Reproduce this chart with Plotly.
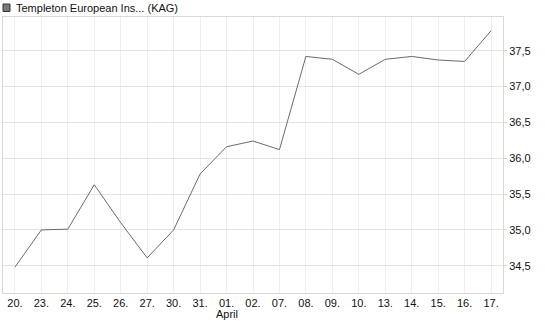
import plotly.graph_objects as go

day_labels = ["20.", "23.", "24.", "25.", "26.", "27.", "30.", "31.", "01.", "02.",
              "07.", "08.", "09.", "10.", "13.", "14.", "15.", "16.", "17."]
month_labels = ["", "", "", "", "", "", "", "", "April", "", "", "", "", "", "", "", "", "", ""]
prices = [34.48, 35.0, 35.01, 35.63, 35.1, 34.61, 35.0, 35.78, 36.16, 36.24,
          36.12, 37.42, 37.38, 37.17, 37.38, 37.42, 37.37, 37.35, 37.78]
y_ticks = [34.5, 35.0, 35.5, 36.0, 36.5, 37.0, 37.5]
series_name = "Templeton European Ins... (KAG)"

x_idx = list(range(len(prices)))

fig = go.Figure()
fig.add_trace(go.Scatter(x=x_idx, y=prices, mode="lines",
                         line=dict(color="#6b6b6b", width=1), showlegend=False,
                         hoverinfo="skip"))

annotations = [dict(text=series_name, xref="paper", yref="paper",
                    x=0.022, y=1.033, xanchor="left", yanchor="middle",
                    showarrow=False, font=dict(size=11, color="#111111"))]
for i, m in zip(x_idx, month_labels):
    if m:
        annotations.append(dict(text=m, xref="x", yref="paper", x=i, y=-0.076,
                                xanchor="center", yanchor="middle", showarrow=False,
                                font=dict(size=11, color="#111111")))

fig.update_layout(
    width=545, height=327,
    margin=dict(l=3, r=42, t=17, b=34),
    paper_bgcolor="white", plot_bgcolor="white",
    separators=",.",
    font=dict(family="Liberation Sans, Arial, sans-serif", size=11, color="#111111"),
    xaxis=dict(
        range=[-0.45, 18.45], tickmode="array", tickvals=x_idx, ticktext=day_labels,
        showgrid=True, gridcolor="#eeeeee", gridwidth=1,
        showline=True, linecolor="#d8d8d8", linewidth=1, mirror=True,
        ticks="", zeroline=False, tickfont=dict(size=11), fixedrange=True,
    ),
    yaxis=dict(
        range=[34.12, 37.97], side="right", tickmode="array", tickvals=y_ticks,
        tickformat=".1f",
        showgrid=True, gridcolor="#e3e3e3", gridwidth=1,
        showline=True, linecolor="#d8d8d8", linewidth=1, mirror=True,
        ticks="outside", ticklen=3, tickcolor="#d8d8d8",
        zeroline=False, tickfont=dict(size=11), fixedrange=True,
    ),
    shapes=[dict(type="rect", xref="paper", yref="paper",
                 x0=0.0, x1=0.014, y0=1.020, y1=1.047,
                 fillcolor="#7a7a7a", line=dict(color="#333333", width=1))],
    annotations=annotations,
)

fig.write_html("out.html")
